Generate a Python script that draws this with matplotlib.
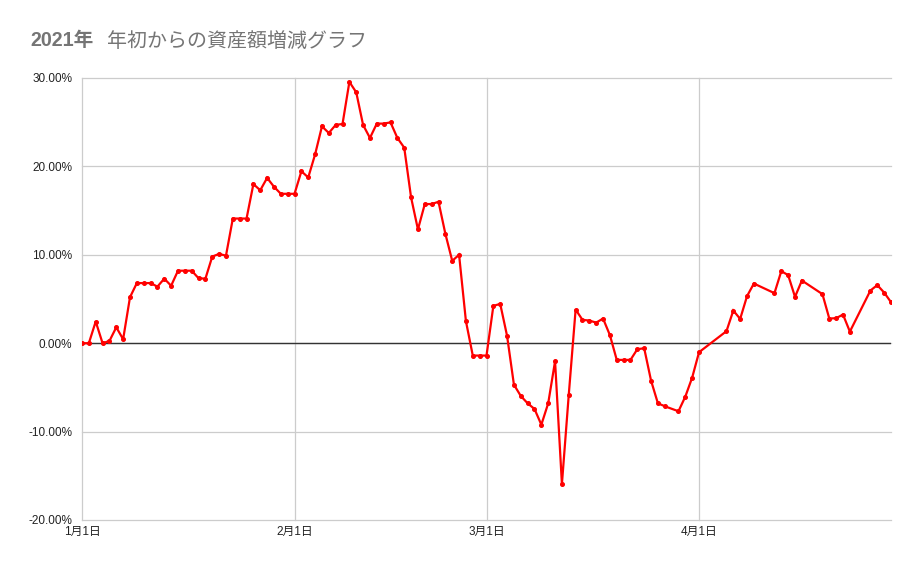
import numpy as np
import pandas as pd
import matplotlib
matplotlib.use("Agg")
import matplotlib.pyplot as plt
import matplotlib.dates as mdates
from matplotlib.ticker import FuncFormatter

plt.rcParams['font.family'] = ['Liberation Sans', 'Noto Sans CJK JP', 'DejaVu Sans']

# daily change since Jan 1 (%), None = no record that day
dates = pd.date_range("2021-01-01", "2021-04-29", freq="D")
values = [
    0.0, 0.0, 2.45, 0.0, 0.25, 1.8, 0.45, 5.2, 6.8, 6.8,
    6.8, 6.4, 7.3, 6.5, 8.2, 8.2, 8.2, 7.35, 7.3, 9.8,
    10.1, 9.9, 14.1, 14.1, 14.1, 18.0, 17.3, 18.7, 17.7, 16.9,
    16.9, 16.9, 19.45, 18.75, 21.36, 24.53, 23.78, 24.69, 24.8, 29.56,
    28.38, 24.69, 23.22, 24.84, 24.84, 24.98, 23.22, 22.12, 16.49, 12.87,
    15.74, 15.74, 16.0, 12.38, 9.32, 10.0, 2.49, -1.4, -1.4, -1.4,
    4.22, 4.45, 0.83, -4.69, -5.97, -6.8, -7.44, -9.22, -6.8, -2.04,
    -15.93, -5.82, 3.81, 2.64, 2.56, 2.33, 2.79, 0.91, -1.89, -1.89,
    -1.89, -0.68, -0.57, -4.23, -6.8, -7.13, None, -7.7, -6.04, -3.89,
    -1.02, None, None, None, 1.36, 3.69, 2.75, 5.32, 6.75, None,
    None, 5.66, 8.15, 7.70, 5.24, 7.09, None, None, 5.55, 2.79,
    2.83, 3.24, 1.31, None, None, 5.96, 6.57, 5.73, 4.64,
]
month_ticks = pd.to_datetime(["2021-01-01", "2021-02-01", "2021-03-01", "2021-04-01"])
month_labels = ["1月1日", "2月1日", "3月1日", "4月1日"]
y_ticks = [-20, -10, 0, 10, 20, 30]

s = pd.Series(values, index=dates, dtype=float).dropna()

fig = plt.figure(figsize=(9.21, 5.69), dpi=100)
ax = fig.add_axes([82/921, 1-520/569, (891-82)/921, (520-78)/569])

ax.plot(s.index, s.values, color="#ff0000", lw=1.6, marker="o", ms=2.6,
        solid_joinstyle="miter", zorder=3)

ax.set_xlim(dates[0], dates[-1])
ax.set_ylim(-20, 30)
ax.set_yticks(y_ticks)
ax.yaxis.set_major_formatter(FuncFormatter(lambda v, p: f"{v:.2f}%"))
ax.set_xticks(month_ticks)
ax.set_xticklabels(month_labels)

ax.grid(True, color="#cccccc", lw=0.9)
for gl in ax.get_xgridlines() + ax.get_ygridlines():
    gl.set_clip_on(False)
ax.axhline(0, color="#333333", lw=1.0, zorder=2)
for sp in ax.spines.values():
    sp.set_visible(False)
ax.tick_params(length=0, labelsize=8.5, colors="#222222")
ax.tick_params(axis="y", pad=7)
ax.tick_params(axis="x", pad=4)

fig.text(30/921, 1-41/569, "2021年", fontsize=14.2, fontweight="bold",
         color="#757575", va="center", ha="left")
fig.text(107/921, 1-41/569, "年初からの資産額増減グラフ", fontsize=14.4,
         color="#757575", va="center", ha="left")

fig.savefig("out.png", dpi=100)
